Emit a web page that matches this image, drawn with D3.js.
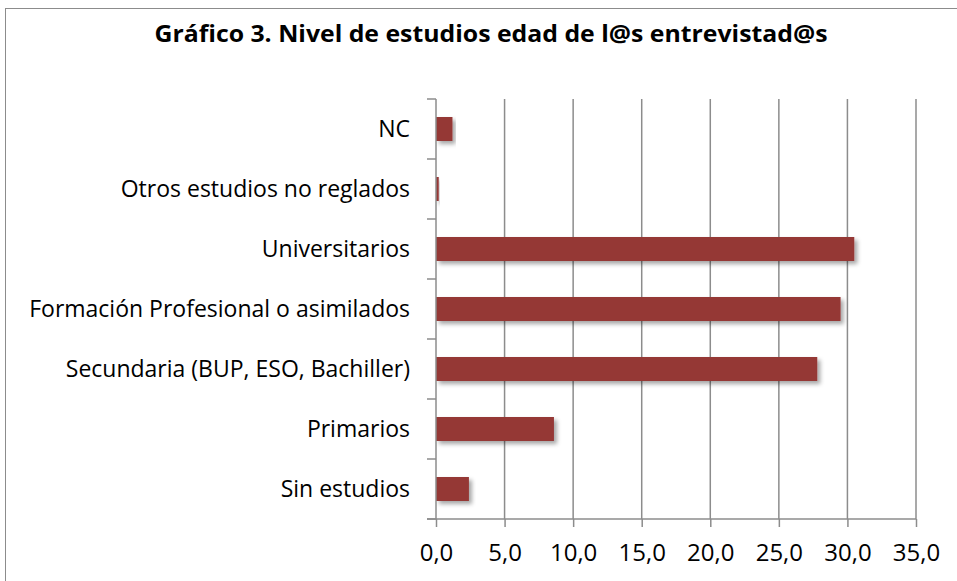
<!DOCTYPE html>
<html>
<head>
<meta charset="utf-8">
<script src="https://cdn.jsdelivr.net/npm/d3@7"></script>
<style>
  body { margin: 0; background: #fff; }
  text { font-family: "Open Sans", sans-serif; fill: #000; }
</style>
</head>
<body>
<div id="chart"></div>
<script>
// Chart data (top row first, as drawn).
var categories = ["NC", "Otros estudios no reglados", "Universitarios",
                  "Formación Profesional o asimilados", "Secundaria (BUP, ESO, Bachiller)",
                  "Primarios", "Sin estudios"];
var values = [1.2, 0.2, 30.5, 29.5, 27.8, 8.6, 2.4];
var xTicks = [0, 5, 10, 15, 20, 25, 30, 35];
var title = "Gráfico 3. Nivel de estudios edad de l@s entrevistad@s";

var width = 957, height = 581;
var plotLeft = 436, plotRight = 916, plotTop = 99, plotBottom = 519;
var barColor = "#953735";

var svg = d3.select("#chart").append("svg")
    .attr("width", width)
    .attr("height", height);

// drop shadow for bars, like the office chart
var defs = svg.append("defs");
var f = defs.append("filter").attr("id", "shadow")
    .attr("x", "-10%").attr("y", "-30%").attr("width", "130%").attr("height", "180%");
f.append("feDropShadow").attr("dx", 3).attr("dy", 3).attr("stdDeviation", 2)
    .attr("flood-color", "#000").attr("flood-opacity", 0.35);

// outer border
svg.append("rect")
    .attr("x", 5.5).attr("y", 8.5)
    .attr("width", 980).attr("height", 600)
    .attr("fill", "none").attr("stroke", "#8c8c8c").attr("stroke-width", 1);

// title
svg.append("text")
    .attr("x", 491).attr("y", 42)
    .attr("text-anchor", "middle")
    .style("font-weight", "bold")
    .style("font-size", "24px")
    .attr("textLength", 673)
    .attr("lengthAdjust", "spacingAndGlyphs")
    .text(title);

var x = d3.scaleLinear().domain([0, 35]).range([plotLeft, plotRight]);
var y = d3.scaleBand().domain(categories).range([plotTop, plotBottom])
    .paddingInner(0.6).paddingOuter(0.3);

// vertical gridlines
svg.append("g").selectAll("line")
    .data(xTicks.slice(1))
    .enter().append("line")
    .attr("x1", d => x(d)).attr("x2", d => x(d))
    .attr("y1", plotTop).attr("y2", plotBottom)
    .attr("stroke", "#8c8c8c").attr("stroke-width", 1.5);

// bars
svg.append("g").selectAll("rect")
    .data(categories)
    .enter().append("rect")
    .attr("x", x(0))
    .attr("y", d => y(d))
    .attr("width", (d, i) => x(values[i]) - x(0))
    .attr("height", y.bandwidth())
    .attr("fill", barColor)
    .attr("filter", "url(#shadow)");

// x axis
var xAxis = d3.axisBottom(x)
    .tickValues(xTicks)
    .tickSize(8)
    .tickPadding(17)
    .tickFormat(d => d3.format(".1f")(d).replace(".", ","));
var gx = svg.append("g")
    .attr("transform", "translate(0," + plotBottom + ")")
    .call(xAxis);
gx.select(".domain").attr("d", "M427,0H" + plotRight);
gx.selectAll("path, line").attr("stroke", "#8c8c8c").attr("stroke-width", 1.5);
gx.selectAll("text").style("font-size", "24px").attr("fill", "#000");

// y axis: ticks at band boundaries, labels in the middle of each band
var bounds = d3.range(categories.length + 1).map(i => plotTop + i * (plotBottom - plotTop) / categories.length);
var gy = svg.append("g");
gy.append("line")
    .attr("x1", plotLeft).attr("x2", plotLeft)
    .attr("y1", plotTop).attr("y2", plotBottom)
    .attr("stroke", "#8c8c8c").attr("stroke-width", 1.5);
gy.selectAll("line.tick")
    .data(bounds)
    .enter().append("line")
    .attr("class", "tick")
    .attr("x1", plotLeft - 9).attr("x2", plotLeft)
    .attr("y1", d => d).attr("y2", d => d)
    .attr("stroke", "#8c8c8c").attr("stroke-width", 1.5);
gy.selectAll("text")
    .data(categories)
    .enter().append("text")
    .attr("x", 410)
    .attr("y", d => y(d) + y.bandwidth() / 2 + 8)
    .attr("text-anchor", "end")
    .style("font-size", "23px")
    .text(d => d);
</script>
</body>
</html>
